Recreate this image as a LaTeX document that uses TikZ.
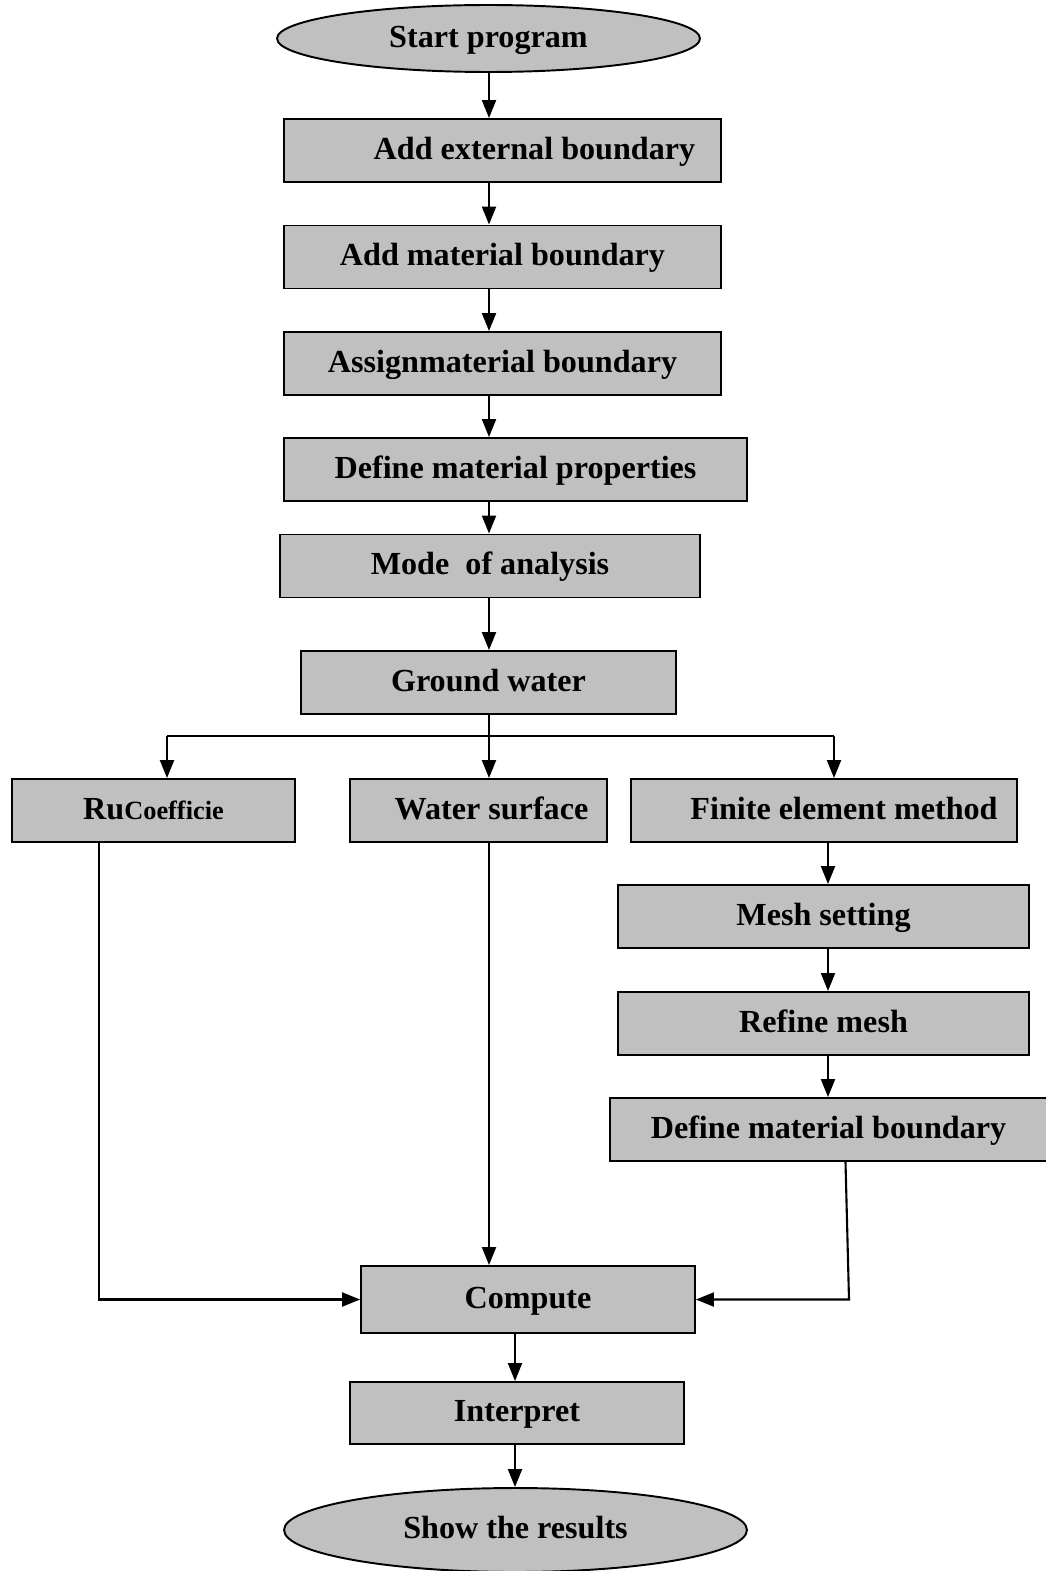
\documentclass[tikz,border=0pt]{standalone}
\usepackage{fontspec}
\setmainfont{Liberation Serif}
\usetikzlibrary{arrows.meta,shapes.geometric}
\definecolor{boxgray}{HTML}{C0C0C0}

\begin{document}
\begin{tikzpicture}[x=0.02cm,y=-0.02cm,
  every node/.style={font=\bfseries\fontsize{18.3}{21}\selectfont,text height=9.8pt,text depth=0pt},
  box/.style={draw,fill=boxgray,line width=1.1pt,minimum height=1.26cm,inner sep=0pt},
  oval/.style={draw,fill=boxgray,line width=1.1pt,ellipse,inner sep=0pt},
  line/.style={line width=1.2pt},
  arrow/.style={line width=1.2pt,-{Triangle[length=0.36cm,width=0.28cm]}}]
\useasboundingbox (0,0) rectangle (1045,1571);

% main column
\node[oval,minimum width=8.46cm,minimum height=1.34cm] (start) at (488.5,38.5) {Start program};
\node[box,minimum width=8.74cm] (ext) at (502.5,150.5) {\hspace*{1.28cm}Add external boundary};
\node[box,minimum width=8.74cm] (mat) at (502.5,257) {Add material boundary};
\node[box,minimum width=8.74cm] (asg) at (502.5,363.5) {Assignmaterial boundary};
\node[box,minimum width=9.26cm] (prop) at (515.5,469.5) {Define material properties};
\node[box,minimum width=8.4cm] (mode) at (490,566) {Mode\ \ of analysis};
\node[box,minimum width=7.5cm] (gw) at (488.5,682.5) {Ground water};

% three branches
\node[box,minimum width=5.66cm] (ru) at (153.5,810.5) {Ru{\fontsize{15}{18}\selectfont Coefficie}};
\node[box,minimum width=5.14cm] (ws) at (478.5,810.5) {\hspace*{0.52cm}Water surface};
\node[box,minimum width=7.72cm] (fem) at (824,810.5) {\hspace*{0.8cm}Finite element method};
\node[box,minimum width=8.22cm] (mesh) at (823.5,916.5) {Mesh setting};
\node[box,minimum width=8.22cm] (ref) at (823.5,1023.5) {Refine mesh};
\node[box,minimum width=8.74cm] (dmb) at (828.5,1129.5) {Define material boundary};

% end
\node[box,minimum width=6.68cm,minimum height=1.34cm] (comp) at (528,1299.5) {Compute};
\node[box,minimum width=6.68cm,minimum height=1.24cm] (intp) at (517,1413) {Interpret};
\node[oval,minimum width=9.26cm,minimum height=1.68cm] (show) at (515.5,1530) {Show the results};

\coordinate (axis) at (489,0);
\coordinate (raxis) at (828,0);
\coordinate (baxis) at (515,0);
\coordinate (lcol) at (99,0);
\coordinate (bl) at (167,736);
\coordinate (br) at (834,736);
\coordinate (rc) at (849,1299.5);

\foreach \a/\b in {start/ext,ext/mat,mat/asg,asg/prop,prop/mode,mode/gw,gw/ws,ws/comp}{
	\draw[arrow] (\a.south -| axis) -- (\b.north -| axis);
	}
\foreach \a/\b in {fem/mesh,mesh/ref,ref/dmb}{
	\draw[arrow] (\a.south -| raxis) -- (\b.north -| raxis);
	}
\foreach \a/\b in {comp/intp,intp/show}{
	\draw[arrow] (\a.south -| baxis) -- (\b.north -| baxis);
	}

\draw[line] (bl) -- (br);
\draw[arrow] (bl) -- (bl |- ru.north);
\draw[arrow] (br) -- (br |- fem.north);

\draw[arrow] (ru.south -| lcol) |- (comp.west);
\draw[arrow] ([xshift=0.34cm]dmb.south) -- (rc) -- (comp.east);
\end{tikzpicture}
\end{document}
